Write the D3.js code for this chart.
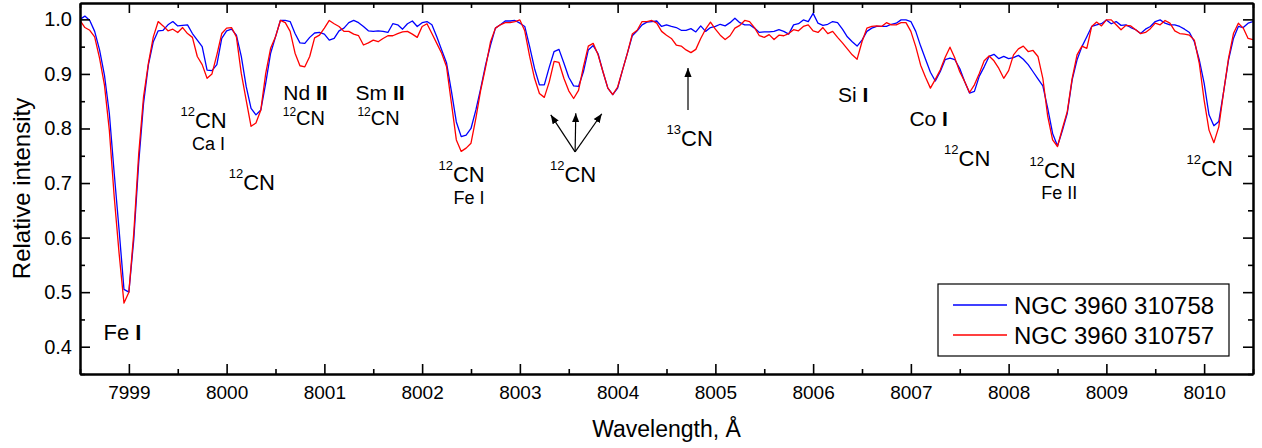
<!DOCTYPE html>
<html>
<head>
<meta charset="utf-8">
<script src="https://cdn.jsdelivr.net/npm/d3@7"></script>
<style>
  body { margin: 0; background: #fff; }
  text { font-family: "Liberation Sans", Arial, sans-serif; fill: #000; }
</style>
</head>
<body>
<div id="chart"></div>
<script>
// sampled spectra (Angstrom, relative intensity)
const wavelength = [
  7998.50,7998.55,7998.60,7998.65,7998.70,7998.75,7998.80,7998.85,7998.90,7998.95,
  7999.00,7999.05,7999.10,7999.15,7999.20,7999.25,7999.30,7999.35,7999.40,7999.45,
  7999.50,7999.55,7999.60,7999.65,7999.70,7999.75,7999.80,7999.85,7999.90,7999.95,
  8000.00,8000.05,8000.10,8000.15,8000.20,8000.25,8000.30,8000.35,8000.40,8000.45,
  8000.50,8000.55,8000.60,8000.65,8000.70,8000.75,8000.80,8000.85,8000.90,8000.95,
  8001.00,8001.05,8001.10,8001.15,8001.20,8001.25,8001.30,8001.35,8001.40,8001.45,
  8001.50,8001.55,8001.60,8001.65,8001.70,8001.75,8001.80,8001.85,8001.90,8001.95,
  8002.00,8002.05,8002.10,8002.15,8002.20,8002.25,8002.30,8002.35,8002.40,8002.45,
  8002.50,8002.55,8002.60,8002.65,8002.70,8002.75,8002.80,8002.85,8002.90,8002.95,
  8003.00,8003.05,8003.10,8003.15,8003.20,8003.25,8003.30,8003.35,8003.40,8003.45,
  8003.50,8003.55,8003.60,8003.65,8003.70,8003.75,8003.80,8003.85,8003.90,8003.95,
  8004.00,8004.05,8004.10,8004.15,8004.20,8004.25,8004.30,8004.35,8004.40,8004.45,
  8004.50,8004.55,8004.60,8004.65,8004.70,8004.75,8004.80,8004.85,8004.90,8004.95,
  8005.00,8005.05,8005.10,8005.15,8005.20,8005.25,8005.30,8005.35,8005.40,8005.45,
  8005.50,8005.55,8005.60,8005.65,8005.70,8005.75,8005.80,8005.85,8005.90,8005.95,
  8006.00,8006.05,8006.10,8006.15,8006.20,8006.25,8006.30,8006.35,8006.40,8006.45,
  8006.50,8006.55,8006.60,8006.65,8006.70,8006.75,8006.80,8006.85,8006.90,8006.95,
  8007.00,8007.05,8007.10,8007.15,8007.20,8007.25,8007.30,8007.35,8007.40,8007.45,
  8007.50,8007.55,8007.60,8007.65,8007.70,8007.75,8007.80,8007.85,8007.90,8007.95,
  8008.00,8008.05,8008.10,8008.15,8008.20,8008.25,8008.30,8008.35,8008.40,8008.45,
  8008.50,8008.55,8008.60,8008.65,8008.70,8008.75,8008.80,8008.85,8008.90,8008.95,
  8009.00,8009.05,8009.10,8009.15,8009.20,8009.25,8009.30,8009.35,8009.40,8009.45,
  8009.50,8009.55,8009.60,8009.65,8009.70,8009.75,8009.80,8009.85,8009.90,8009.95,
  8010.00,8010.05,8010.10,8010.15,8010.20,8010.25,8010.30,8010.35,8010.40,8010.45,
  8010.50
];

// NGC 3960 310758
const fluxBlue = [
  1.000,1.006,0.998,0.978,0.944,0.898,0.828,0.718,0.614,0.505,
  0.500,0.596,0.736,0.846,0.917,0.959,0.979,0.980,0.990,0.996,
  0.988,0.989,0.990,0.974,0.962,0.950,0.907,0.906,0.917,0.965,
  0.979,0.982,0.971,0.932,0.877,0.837,0.825,0.834,0.883,0.938,
  0.968,0.998,0.998,0.996,0.974,0.957,0.956,0.967,0.975,0.976,
  0.973,0.962,0.965,0.979,0.984,0.994,0.998,0.994,0.987,0.979,
  0.978,0.979,0.978,0.976,0.992,0.990,0.982,0.992,0.997,0.987,
  0.994,0.996,0.990,0.968,0.944,0.920,0.868,0.812,0.785,0.788,
  0.800,0.834,0.874,0.917,0.953,0.984,0.990,0.997,0.997,0.998,
  0.993,0.987,0.950,0.910,0.880,0.880,0.912,0.941,0.945,0.920,
  0.894,0.878,0.877,0.904,0.944,0.952,0.937,0.904,0.874,0.862,
  0.874,0.907,0.938,0.970,0.979,0.990,0.995,0.996,0.997,0.987,
  0.990,0.987,0.985,0.980,0.980,0.983,0.977,0.988,0.978,0.985,
  0.987,0.991,0.988,0.994,1.002,0.994,0.990,0.990,0.984,0.976,
  0.977,0.977,0.978,0.981,0.978,0.973,0.990,0.992,0.999,0.996,
  1.011,0.993,0.989,0.991,0.996,0.994,0.982,0.968,0.959,0.951,
  0.962,0.978,0.984,0.987,0.987,0.987,0.991,0.993,0.999,0.999,
  0.996,0.978,0.951,0.927,0.903,0.887,0.904,0.926,0.929,0.926,
  0.910,0.886,0.865,0.868,0.896,0.913,0.932,0.936,0.928,0.932,
  0.928,0.930,0.934,0.927,0.917,0.904,0.891,0.878,0.837,0.791,
  0.768,0.796,0.828,0.889,0.926,0.950,0.968,0.987,0.990,0.992,
  0.999,0.992,0.996,0.989,0.990,0.985,0.981,0.974,0.982,0.987,
  0.996,0.999,0.993,0.990,0.990,0.987,0.982,0.976,0.959,0.926,
  0.883,0.825,0.805,0.813,0.868,0.926,0.965,0.987,0.985,0.993,
  0.996
];

// NGC 3960 310757
const fluxRed = [
  0.998,0.985,0.980,0.968,0.929,0.880,0.797,0.675,0.571,0.480,
  0.500,0.608,0.752,0.858,0.920,0.968,0.996,0.988,0.979,0.982,
  0.976,0.985,0.974,0.967,0.932,0.917,0.892,0.900,0.935,0.974,
  0.984,0.985,0.968,0.901,0.852,0.804,0.810,0.834,0.901,0.947,
  0.968,0.998,0.994,0.978,0.938,0.915,0.913,0.932,0.966,0.971,
  0.984,0.998,0.992,0.987,0.978,0.978,0.973,0.970,0.953,0.957,
  0.962,0.959,0.965,0.970,0.970,0.974,0.977,0.978,0.973,0.967,
  0.987,0.992,0.974,0.956,0.938,0.913,0.846,0.779,0.758,0.764,
  0.773,0.819,0.871,0.913,0.959,0.984,0.990,0.994,0.994,0.996,
  0.999,0.979,0.932,0.892,0.864,0.857,0.885,0.923,0.921,0.892,
  0.869,0.855,0.870,0.913,0.951,0.956,0.935,0.904,0.874,0.862,
  0.876,0.907,0.938,0.973,0.980,0.996,0.996,0.998,0.993,0.978,
  0.971,0.965,0.953,0.951,0.944,0.939,0.945,0.965,0.982,0.995,
  0.982,0.971,0.963,0.970,0.984,0.989,0.998,0.996,0.985,0.970,
  0.967,0.972,0.963,0.971,0.970,0.974,0.981,0.979,0.987,0.990,
  0.979,0.976,0.985,0.974,0.978,0.967,0.957,0.946,0.935,0.927,
  0.959,0.984,0.987,0.988,0.987,0.994,0.990,0.990,0.994,0.994,
  0.978,0.950,0.916,0.894,0.874,0.890,0.907,0.930,0.949,0.929,
  0.904,0.886,0.866,0.880,0.901,0.924,0.933,0.924,0.910,0.892,
  0.906,0.935,0.946,0.951,0.941,0.943,0.932,0.892,0.822,0.779,
  0.767,0.800,0.831,0.892,0.935,0.951,0.947,0.987,0.995,0.988,
  0.999,0.999,0.990,0.981,0.989,0.988,0.981,0.974,0.976,0.983,
  0.993,0.990,0.998,0.993,0.979,0.974,0.973,0.971,0.962,0.920,
  0.852,0.797,0.774,0.803,0.868,0.929,0.974,0.993,0.984,0.965,
  0.963
];

const seriesNames = ["NGC 3960 310758", "NGC 3960 310757"];
const xTickValues = [7999, 8000, 8001, 8002, 8003, 8004, 8005, 8006, 8007, 8008, 8009, 8010];
const yTickValues = [0.4, 0.5, 0.6, 0.7, 0.8, 0.9, 1.0];

// line identifications: wavelength / intensity of the label baseline
const lineLabels = [
  {wl: 7998.935, val: 0.412, text: "Fe I",  kind: "ionBig"},
  {wl: 7999.764, val: 0.801, text: "12CN",  kind: "mol"},
  {wl: 7999.815, val: 0.761, text: "Ca I",  kind: "ionThin"},
  {wl: 8000.258, val: 0.687, text: "12CN",  kind: "mol"},
  {wl: 8000.807, val: 0.853, text: "Nd II", kind: "ion"},
  {wl: 8000.790, val: 0.807, text: "12CN",  kind: "molSmall"},
  {wl: 8001.570, val: 0.853, text: "Sm II", kind: "ion"},
  {wl: 8001.554, val: 0.806, text: "12CN",  kind: "molSmall"},
  {wl: 8002.404, val: 0.702, text: "12CN",  kind: "mol"},
  {wl: 8002.480, val: 0.662, text: "Fe I",  kind: "ionThin"},
  {wl: 8003.545, val: 0.702, text: "12CN",  kind: "mol"},
  {wl: 8004.737, val: 0.768, text: "13CN",  kind: "mol"},
  {wl: 8006.410, val: 0.849, text: "Si I",  kind: "ion"},
  {wl: 8007.182, val: 0.805, text: "Co I",  kind: "ion"},
  {wl: 8007.576, val: 0.731, text: "12CN",  kind: "mol"},
  {wl: 8008.450, val: 0.709, text: "12CN",  kind: "mol"},
  {wl: 8008.517, val: 0.671, text: "Fe II", kind: "ionThin"},
  {wl: 8010.057, val: 0.713, text: "12CN",  kind: "mol"}
];

// arrows pointing at the CN features
const arrowData = [
  {from: [8003.565, 0.757], to: [8003.316, 0.825]},
  {from: [8003.565, 0.757], to: [8003.572, 0.828]},
  {from: [8003.565, 0.757], to: [8003.838, 0.827]},
  {from: [8004.720, 0.834], to: [8004.720, 0.911]}
];

const labelSize = {ionBig: 22, ion: 21, ionThin: 18, mol: 22, molSmall: 20};

const W = 1262, H = 448;
const margin = {top: 3, right: 9, bottom: 74, left: 80};
const width = W - margin.left - margin.right;
const height = H - margin.top - margin.bottom;

const svg = d3.select("#chart").append("svg")
  .attr("width", W)
  .attr("height", H);

svg.append("rect").attr("width", W).attr("height", H).attr("fill", "#fff");

const g = svg.append("g")
  .attr("transform", "translate(" + margin.left + "," + margin.top + ")");

const x = d3.scaleLinear().domain([7998.5, 8010.5]).range([0, width]);
const y = d3.scaleLinear().domain([0.35, 1.03]).range([height, 0]);

svg.append("defs").append("clipPath").attr("id", "plotClip")
  .append("rect").attr("width", width).attr("height", height);

// spectra
const line = d3.line()
  .x(d => x(d[0]))
  .y(d => y(d[1]));

const series = [
  {name: seriesNames[0], color: "#0000ff", values: wavelength.map((w, i) => [w, fluxBlue[i]])},
  {name: seriesNames[1], color: "#ff0000", values: wavelength.map((w, i) => [w, fluxRed[i]])}
];

g.append("g").attr("clip-path", "url(#plotClip)")
  .selectAll("path")
  .data(series)
  .enter()
  .append("path")
  .attr("d", d => line(d.values))
  .attr("fill", "none")
  .attr("stroke", d => d.color)
  .attr("stroke-width", 1.3)
  .attr("stroke-linejoin", "round");

// axes: ticks point inwards, minor ticks at half steps
const xMinor = d3.range(7998.5, 8010.6, 0.5).filter(v => !xTickValues.includes(v));
const yMinor = yTickValues.map(v => +(v - 0.05).toFixed(2));

function styleAxis(sel) {
  sel.select(".domain").attr("stroke", "#000").attr("stroke-width", 2);
  sel.selectAll(".tick line").attr("stroke", "#000").attr("stroke-width", 1.6);
  sel.selectAll(".tick text").attr("fill", "#000").attr("font-family", '"Liberation Sans", Arial, sans-serif');
}

const xAxis = g.append("g")
  .attr("transform", "translate(0," + height + ")")
  .call(d3.axisBottom(x).tickValues(xTickValues).tickFormat(d3.format("d"))
    .tickSizeInner(-10).tickSizeOuter(0).tickPadding(12));
xAxis.selectAll(".tick text").attr("font-size", 19);
styleAxis(xAxis);

g.append("g")
  .attr("transform", "translate(0," + height + ")")
  .call(d3.axisBottom(x).tickValues(xMinor).tickFormat("").tickSizeInner(-5).tickSizeOuter(0))
  .call(styleAxis);

g.append("g")
  .call(d3.axisTop(x).tickValues(xTickValues).tickFormat("").tickSizeInner(-10).tickSizeOuter(0))
  .call(styleAxis);
g.append("g")
  .call(d3.axisTop(x).tickValues(xMinor).tickFormat("").tickSizeInner(-5).tickSizeOuter(0))
  .call(styleAxis);

const yAxis = g.append("g")
  .call(d3.axisLeft(y).tickValues(yTickValues).tickFormat(d3.format(".1f"))
    .tickSizeInner(-10).tickSizeOuter(0).tickPadding(8));
yAxis.selectAll(".tick text").attr("font-size", 20);
styleAxis(yAxis);
g.append("g")
  .call(d3.axisLeft(y).tickValues(yMinor).tickFormat("").tickSizeInner(-5).tickSizeOuter(0))
  .call(styleAxis);

g.append("g")
  .attr("transform", "translate(" + width + ",0)")
  .call(d3.axisRight(y).tickValues(yTickValues).tickFormat("").tickSizeInner(-10).tickSizeOuter(0))
  .call(styleAxis);
g.append("g")
  .attr("transform", "translate(" + width + ",0)")
  .call(d3.axisRight(y).tickValues(yMinor).tickFormat("").tickSizeInner(-5).tickSizeOuter(0))
  .call(styleAxis);

// axis titles
svg.append("text")
  .attr("x", margin.left + width / 2)
  .attr("y", 437)
  .attr("text-anchor", "middle")
  .attr("font-size", 23)
  .text("Wavelength, Å");

svg.append("text")
  .attr("transform", "translate(30," + (margin.top + height / 2) + ") rotate(-90)")
  .attr("text-anchor", "middle")
  .attr("font-size", 24)
  .text("Relative intensity");

// line identifications
const labelG = g.append("g");
lineLabels.forEach(d => {
  const size = labelSize[d.kind];
  const t = labelG.append("text")
    .attr("x", x(d.wl))
    .attr("y", y(d.val))
    .attr("text-anchor", "middle")
    .attr("font-size", size);
  const iso = d.text.match(/^(\d+)(.*)$/);
  if (iso) {
    const raise = d.kind === "molSmall" ? size * 0.45 : size * 0.55;
    t.append("tspan").attr("font-size", Math.round(size * 0.6)).attr("dy", -raise).text(iso[1]);
    t.append("tspan").attr("dy", raise).text(iso[2]);
  } else if (d.kind === "ion" || d.kind === "ionBig") {
    const parts = d.text.split(" ");
    t.append("tspan").text(parts[0] + " ");
    t.append("tspan").attr("font-weight", "bold").text(parts[1]);
  } else {
    t.text(d.text);
  }
});

svg.select("defs").append("marker")
  .attr("id", "arrowHead")
  .attr("viewBox", "0 0 10 10")
  .attr("refX", 10).attr("refY", 5)
  .attr("markerWidth", 9).attr("markerHeight", 9)
  .attr("markerUnits", "userSpaceOnUse")
  .attr("orient", "auto")
  .append("path")
  .attr("d", "M0,1 L10,5 L0,9 Z")
  .attr("fill", "#000");

labelG.selectAll("line.arrow")
  .data(arrowData)
  .enter()
  .append("line")
  .attr("class", "arrow")
  .attr("x1", d => x(d.from[0])).attr("y1", d => y(d.from[1]))
  .attr("x2", d => x(d.to[0])).attr("y2", d => y(d.to[1]))
  .attr("stroke", "#000")
  .attr("stroke-width", 1.2)
  .attr("marker-end", "url(#arrowHead)");

// legend
const legend = svg.append("g").attr("transform", "translate(938,284)");
legend.append("rect")
  .attr("width", 291).attr("height", 72)
  .attr("fill", "#fff").attr("stroke", "#000").attr("stroke-width", 1.2);
series.forEach((s, i) => {
  const ly = 21 + i * 30;
  legend.append("line")
    .attr("x1", 15).attr("x2", 69)
    .attr("y1", ly).attr("y2", ly)
    .attr("stroke", s.color).attr("stroke-width", 1.3);
  legend.append("text")
    .attr("x", 76).attr("y", ly + 8.5)
    .attr("font-size", 24)
    .text(s.name);
});
</script>
</body>
</html>
